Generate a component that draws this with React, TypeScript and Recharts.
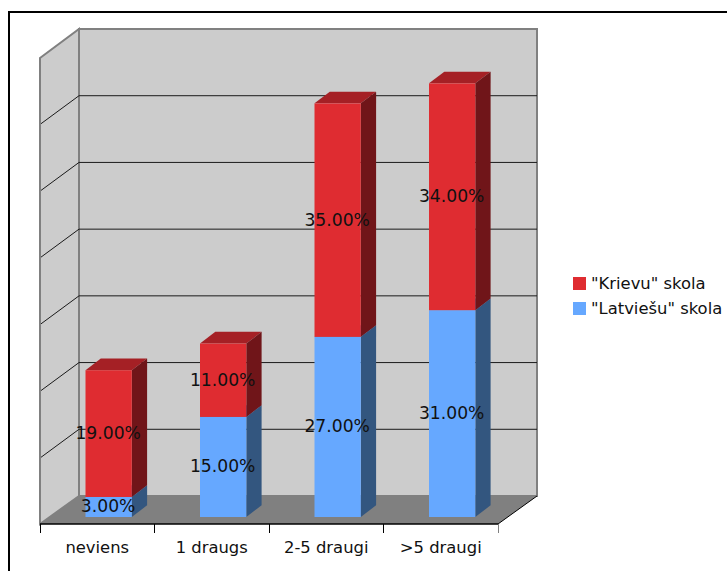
import { Bar, BarChart, CartesianGrid, LabelList, Legend, XAxis, YAxis, usePlotArea } from 'recharts'

const categories = ['neviens', '1 draugs', '2-5 draugi', '>5 draugi']
const latviesu = [3, 15, 27, 31]
const krievu = [19, 11, 35, 34]
const valueTicks = [0, 10, 20, 30, 40, 50, 60, 70]

const chartData = categories.map((name, i) => ({
  name,
  latviesu: latviesu[i],
  krievu: krievu[i],
}))

const WIDTH = 727
const HEIGHT = 571
const MARGIN = { top: 57, right: 229, bottom: 0, left: 40 }
const BAND = (WIDTH - MARGIN.left - MARGIN.right) / categories.length

// wall depth, and where the columns sit inside it
const DEPTH_X = 39
const DEPTH_Y = 28
const BAR_SHIFT_X = 11.5
const BAR_SHIFT_Y = 7
const BAR_DEPTH_X = 15.3
const BAR_DEPTH_Y = 11.7

const WALL = '#cccccc'
const WALL_EDGE = '#808080'
const FONT = '"DejaVu Sans", Verdana, sans-serif'

const redFaces = { front: '#df2c31', side: '#701519', top: '#a52025' }
const blueFaces = { front: '#66a8ff', side: '#33567f', top: '#4d7fbf' }

function Walls() {
  const plot = usePlotArea()
  if (!plot) return null
  const left = plot.x
  const right = plot.x + plot.width
  const top = plot.y
  const bottom = plot.y + plot.height
  const backLeft = left + DEPTH_X
  const backRight = right + DEPTH_X
  return (
    <g>
      <polygon
        points={`${left},${bottom} ${right},${bottom} ${backRight},${bottom - DEPTH_Y} ${backLeft},${bottom - DEPTH_Y}`}
        fill={WALL_EDGE}
      />
      <polygon
        points={`${left},${top + 1} ${backLeft},${top - DEPTH_Y} ${backLeft},${bottom - DEPTH_Y} ${left},${bottom}`}
        fill={WALL}
        stroke={WALL_EDGE}
        strokeWidth={2}
      />
      <rect
        x={backLeft}
        y={top - DEPTH_Y}
        width={plot.width}
        height={plot.height}
        fill={WALL}
        stroke={WALL_EDGE}
        strokeWidth={2}
      />
      <line x1={right} y1={bottom} x2={backRight} y2={bottom - DEPTH_Y} stroke="#000" />
    </g>
  )
}

// each grid line runs across the side wall, then along the back wall
function WallGridLine(props: any) {
  const { x1, x2, y1, index } = props
  if (index === 0 || index === valueTicks.length - 1) return <g />
  return (
    <path
      d={`M${x1 + 1},${y1}L${x1 + DEPTH_X},${y1 - DEPTH_Y}L${x2 + DEPTH_X},${y1 - DEPTH_Y}`}
      fill="none"
      stroke="#1a1a1a"
      strokeWidth={1}
    />
  )
}

function Column(props: any, faces: typeof redFaces) {
  const x = props.x + BAR_SHIFT_X
  const y = props.y - BAR_SHIFT_Y
  const { width, height } = props
  const r = x + width
  const b = y + height
  return (
    <g>
      <polygon
        points={`${x},${y} ${x + BAR_DEPTH_X},${y - BAR_DEPTH_Y} ${r + BAR_DEPTH_X},${y - BAR_DEPTH_Y} ${r},${y}`}
        fill={faces.top}
      />
      <polygon
        points={`${r},${y} ${r + BAR_DEPTH_X},${y - BAR_DEPTH_Y} ${r + BAR_DEPTH_X},${b - BAR_DEPTH_Y} ${r},${b}`}
        fill={faces.side}
      />
      <rect x={x} y={y} width={width} height={height} fill={faces.front} />
    </g>
  )
}

function PercentLabel(props: any) {
  const { x, y, width, height, value } = props
  return (
    <text
      x={x + BAR_SHIFT_X + width / 2 - 0.5}
      y={y - BAR_SHIFT_Y + height / 2 - 0.5}
      textAnchor="middle"
      dominantBaseline="central"
      fontFamily={FONT}
      fontSize={17.2}
      fill="#111"
    >
      {`${Number(value).toFixed(2)}%`}
    </text>
  )
}

function CategoryTick(props: any) {
  const { x, y, payload, index } = props
  const last = index === categories.length - 1
  const leftEdge = Math.floor(x - BAND / 2) + 0.5
  const rightEdge = Math.floor(x + BAND / 2) + 0.5
  return (
    <g>
      <line x1={leftEdge} y1={y} x2={leftEdge} y2={y + 9} stroke="#000" />
      {last && <line x1={rightEdge} y1={y} x2={rightEdge} y2={y + 9} stroke={WALL_EDGE} />}
      <text x={x} y={y + 29} textAnchor="middle" fontFamily={FONT} fontSize={16.4} fill="#111">
        {payload.value}
      </text>
    </g>
  )
}

function SchoolLegend({ payload }: any) {
  return (
    <div style={{ fontFamily: FONT, fontSize: 16.4, color: '#111', whiteSpace: 'nowrap' }}>
      {(payload ?? []).map((item: any) => (
        <div key={item.value} style={{ display: 'flex', alignItems: 'center', height: 25 }}>
          <span style={{ width: 13, height: 13, background: item.color, marginRight: 5 }} />
          {item.value}
        </div>
      ))}
    </div>
  )
}

export default function App() {
  return (
    <div style={{ position: 'absolute', left: 0, top: 0, width: WIDTH, height: HEIGHT, overflow: 'hidden', background: '#fff' }}>
      <div style={{ position: 'absolute', left: 8, top: 11, width: 900, height: 800, border: '2px solid #000' }} />
      <div style={{ position: 'absolute', left: 0, top: 0 }}>
        <BarChart width={WIDTH} height={HEIGHT} data={chartData} margin={MARGIN} barSize={46.3}>
          <Walls />
          <CartesianGrid horizontal={WallGridLine} vertical={false} zIndex={1} />
          <XAxis
            dataKey="name"
            height={47}
            interval={0}
            axisLine={{ stroke: '#000', strokeWidth: 1.5 }}
            tickLine={false}
            tickSize={0}
            tickMargin={0}
            tick={CategoryTick}
          />
          <YAxis hide domain={[0, 70]} ticks={valueTicks} />
          <Legend
            layout="vertical"
            align="center"
            verticalAlign="middle"
            content={SchoolLegend}
            wrapperStyle={{ left: 573, top: 270.5, width: 154, bottom: 'auto', right: 'auto' }}
          />
          <Bar
            dataKey="latviesu"
            name={'"Latviešu" skola'}
            stackId="a"
            fill={blueFaces.front}
            isAnimationActive={false}
            shape={(p: any) => Column(p, blueFaces)}
          >
            <LabelList dataKey="latviesu" content={PercentLabel} />
          </Bar>
          <Bar
            dataKey="krievu"
            name={'"Krievu" skola'}
            stackId="a"
            fill={redFaces.front}
            isAnimationActive={false}
            shape={(p: any) => Column(p, redFaces)}
          >
            <LabelList dataKey="krievu" content={PercentLabel} />
          </Bar>
        </BarChart>
      </div>
    </div>
  )
}
